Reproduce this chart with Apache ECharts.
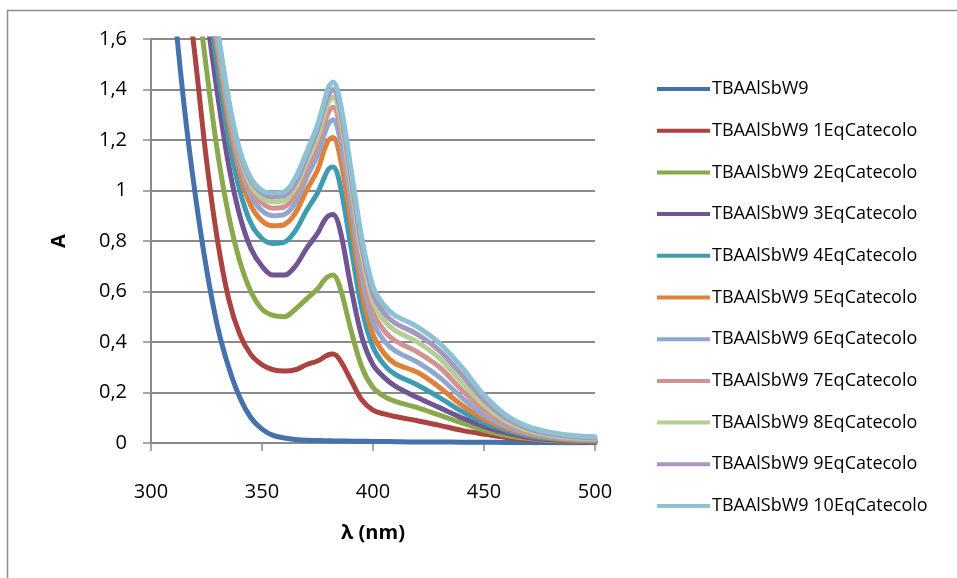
<!DOCTYPE html>
<html>
<head>
<meta charset="utf-8">
<script src="https://cdn.jsdelivr.net/npm/echarts@6/dist/echarts.min.js"></script>
<style>
  html, body { margin: 0; padding: 0; background: #fff; }
  #chart { width: 957px; height: 578px; }
</style>
</head>
<body>
<div id="chart"></div>
<script>
// Wavelengths (nm) at which absorbance was sampled
const wavelengths = [305, 310, 315, 320, 325, 330, 335, 340, 345, 350, 355, 360, 365, 370, 375, 378, 380, 382, 385, 390, 395, 400, 405, 410, 420, 430, 440, 450, 460, 470, 480, 490, 500];

// Absorbance per titration step
const eq0  = [2.40, 1.78, 1.33, 0.98, 0.69, 0.46, 0.30, 0.18, 0.10, 0.055, 0.030, 0.020, 0.014, 0.011, 0.010, 0.009, 0.009, 0.008, 0.008, 0.007, 0.007, 0.006, 0.006, 0.005, 0.004, 0.004, 0.003, 0.003, 0.002, 0.002, 0.001, 0.001, 0.001];
const eq1  = [3.00, 2.40, 1.90, 1.52, 1.12, 0.80, 0.57, 0.43, 0.35, 0.31, 0.29, 0.285, 0.29, 0.31, 0.325, 0.34, 0.35, 0.352, 0.33, 0.25, 0.17, 0.13, 0.115, 0.105, 0.088, 0.070, 0.050, 0.035, 0.022, 0.013, 0.008, 0.005, 0.004];
const eq2  = [3.50, 2.80, 2.30, 1.85, 1.48, 1.15, 0.90, 0.72, 0.60, 0.53, 0.505, 0.50, 0.53, 0.57, 0.61, 0.645, 0.66, 0.665, 0.62, 0.45, 0.30, 0.22, 0.185, 0.165, 0.14, 0.11, 0.08, 0.05, 0.03, 0.018, 0.010, 0.007, 0.005];
const eq3  = [3.80, 3.10, 2.50, 2.05, 1.70, 1.38, 1.10, 0.90, 0.77, 0.70, 0.665, 0.665, 0.70, 0.77, 0.83, 0.88, 0.90, 0.905, 0.85, 0.62, 0.42, 0.31, 0.26, 0.225, 0.18, 0.14, 0.10, 0.065, 0.04, 0.022, 0.013, 0.009, 0.007];
const eq4  = [4.00, 3.30, 2.70, 2.20, 1.80, 1.48, 1.20, 1.00, 0.87, 0.81, 0.79, 0.795, 0.84, 0.92, 0.99, 1.05, 1.085, 1.093, 1.03, 0.78, 0.53, 0.38, 0.31, 0.272, 0.23, 0.18, 0.125, 0.08, 0.05, 0.028, 0.017, 0.011, 0.008];
const eq5  = [4.10, 3.40, 2.80, 2.28, 1.85, 1.55, 1.27, 1.07, 0.94, 0.88, 0.86, 0.865, 0.91, 1.00, 1.08, 1.16, 1.20, 1.21, 1.14, 0.88, 0.60, 0.43, 0.355, 0.315, 0.28, 0.22, 0.15, 0.095, 0.058, 0.033, 0.020, 0.013, 0.010];
const eq6  = [4.15, 3.45, 2.85, 2.32, 1.88, 1.58, 1.30, 1.10, 0.98, 0.92, 0.90, 0.905, 0.95, 1.05, 1.14, 1.22, 1.265, 1.28, 1.21, 0.95, 0.66, 0.48, 0.405, 0.365, 0.32, 0.26, 0.18, 0.11, 0.065, 0.038, 0.023, 0.015, 0.012];
const eq7  = [4.20, 3.50, 2.88, 2.35, 1.91, 1.60, 1.32, 1.12, 1.00, 0.95, 0.93, 0.935, 0.98, 1.08, 1.18, 1.26, 1.31, 1.33, 1.26, 1.00, 0.71, 0.52, 0.445, 0.405, 0.36, 0.30, 0.21, 0.13, 0.075, 0.043, 0.027, 0.018, 0.014];
const eq8  = [4.25, 3.55, 2.90, 2.37, 1.93, 1.62, 1.34, 1.14, 1.02, 0.97, 0.955, 0.96, 1.01, 1.11, 1.21, 1.30, 1.35, 1.37, 1.30, 1.03, 0.75, 0.56, 0.485, 0.445, 0.40, 0.335, 0.24, 0.15, 0.087, 0.050, 0.031, 0.021, 0.017];
const eq9  = [4.30, 3.60, 2.92, 2.39, 1.95, 1.63, 1.35, 1.15, 1.04, 0.99, 0.975, 0.98, 1.03, 1.13, 1.24, 1.33, 1.38, 1.40, 1.33, 1.06, 0.78, 0.59, 0.515, 0.475, 0.43, 0.365, 0.27, 0.17, 0.098, 0.057, 0.036, 0.025, 0.020];
const eq10 = [4.35, 3.65, 2.95, 2.41, 1.97, 1.64, 1.36, 1.16, 1.05, 1.00, 0.99, 0.995, 1.05, 1.15, 1.26, 1.35, 1.41, 1.43, 1.36, 1.09, 0.81, 0.62, 0.545, 0.505, 0.46, 0.395, 0.30, 0.19, 0.11, 0.065, 0.042, 0.030, 0.025];

const seriesNames = [
  'TBAAlSbW9',
  'TBAAlSbW9 1EqCatecolo',
  'TBAAlSbW9 2EqCatecolo',
  'TBAAlSbW9 3EqCatecolo',
  'TBAAlSbW9 4EqCatecolo',
  'TBAAlSbW9 5EqCatecolo',
  'TBAAlSbW9 6EqCatecolo',
  'TBAAlSbW9 7EqCatecolo',
  'TBAAlSbW9 8EqCatecolo',
  'TBAAlSbW9 9EqCatecolo',
  'TBAAlSbW9 10EqCatecolo'
];
const seriesValues = [eq0, eq1, eq2, eq3, eq4, eq5, eq6, eq7, eq8, eq9, eq10];
const seriesColors = ['#4571AC', '#AB4340', '#8AA94C', '#6F5592', '#3E9BB2', '#E0813A', '#8EA8D2', '#D39292', '#B5CE96', '#A798BF', '#8CC2D3'];

const xTicks = { min: 300, max: 500, step: 50 };
const yTicks = { min: 0, max: 1.6, step: 0.2 };

const gridColor = '#8A8A8A';
const fontFamily = '"Open Sans", Lato, sans-serif';

const chart = echarts.init(document.getElementById('chart'), null, { renderer: 'canvas' });

const series = seriesNames.map((name, i) => ({
  name: name,
  type: 'line',
  smooth: 0.35,
  showSymbol: false,
  symbol: 'none',
  clip: true,
  color: seriesColors[i],
  lineStyle: { width: 5, color: seriesColors[i], cap: 'round', join: 'round' },
  data: wavelengths.map((w, k) => [w, seriesValues[i][k]]),
  z: 2 + i
}));

chart.setOption({
  animation: false,
  backgroundColor: '#ffffff',
  graphic: [{
    type: 'rect',
    shape: { x: 7.5, y: 10.5, width: 980, height: 600 },
    style: { fill: 'none', stroke: '#8C8C8C', lineWidth: 1.5 },
    silent: true,
    z: -1
  }],
  grid: { left: 151, top: 39, right: 362, bottom: 135, containLabel: false },
  legend: {
    orient: 'vertical',
    left: 657,
    top: 79,
    padding: 0,
    itemWidth: 53,
    itemHeight: 4,
    itemGap: 21.7,
    icon: 'rect',
    data: seriesNames,
    textStyle: { fontFamily: fontFamily, fontSize: 18, color: '#000', lineHeight: 20, padding: [0, 0, 0, -3] }
  },
  xAxis: {
    type: 'value',
    min: xTicks.min,
    max: xTicks.max,
    interval: xTicks.step,
    name: 'λ (nm)',
    nameLocation: 'middle',
    nameGap: 80,
    nameTextStyle: { fontFamily: fontFamily, fontSize: 20, fontWeight: 'bold', color: '#000' },
    axisLine: { show: true, lineStyle: { color: gridColor, width: 2 } },
    axisTick: { show: true, length: 8, inside: false, lineStyle: { color: gridColor, width: 1.5 } },
    axisLabel: { margin: 39, fontFamily: fontFamily, fontSize: 20, color: '#000' },
    splitLine: { show: false }
  },
  yAxis: {
    type: 'value',
    min: yTicks.min,
    max: yTicks.max,
    interval: yTicks.step,
    name: 'A',
    nameLocation: 'middle',
    nameRotate: 90,
    nameGap: 82,
    nameTextStyle: { fontFamily: fontFamily, fontSize: 20, fontWeight: 'bold', color: '#000' },
    axisLine: { show: true, lineStyle: { color: gridColor, width: 2 } },
    axisTick: { show: true, length: 8, inside: false, lineStyle: { color: gridColor, width: 1.5 } },
    axisLabel: {
      margin: 24,
      fontFamily: fontFamily,
      fontSize: 20,
      color: '#000',
      formatter: v => String(Math.round(v * 10) / 10).replace('.', ',')
    },
    splitLine: { show: true, lineStyle: { color: gridColor, width: 2 } }
  },
  series: series
});
</script>
</body>
</html>
